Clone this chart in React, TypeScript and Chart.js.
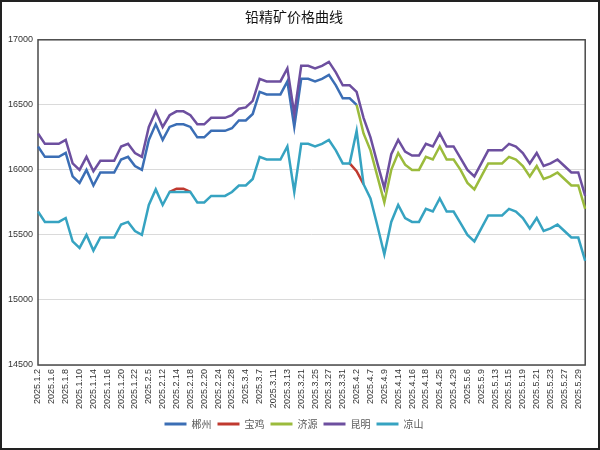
import { useEffect, useRef } from "react";
import { Chart, registerables } from "chart.js";

Chart.register(...registerables);

const TITLE = "铅精矿价格曲线";

const dates = [
  "2025.1.2", "2025.1.3", "2025.1.6", "2025.1.7", "2025.1.8", "2025.1.9", "2025.1.10", "2025.1.13",
  "2025.1.14", "2025.1.15", "2025.1.16", "2025.1.17", "2025.1.20", "2025.1.21", "2025.1.22", "2025.1.23",
  "2025.2.5", "2025.2.10", "2025.2.12", "2025.2.13", "2025.2.14", "2025.2.17", "2025.2.18", "2025.2.19",
  "2025.2.20", "2025.2.21", "2025.2.24", "2025.2.26", "2025.2.28", "2025.3.3", "2025.3.4", "2025.3.6",
  "2025.3.7", "2025.3.10", "2025.3.11", "2025.3.12", "2025.3.13", "2025.3.17", "2025.3.21", "2025.3.24",
  "2025.3.25", "2025.3.26", "2025.3.27", "2025.3.28", "2025.3.31", "2025.4.1", "2025.4.2", "2025.4.3",
  "2025.4.7", "2025.4.8", "2025.4.9", "2025.4.11", "2025.4.14", "2025.4.15", "2025.4.16", "2025.4.17",
  "2025.4.18", "2025.4.22", "2025.4.25", "2025.4.28", "2025.4.29", "2025.4.30", "2025.5.6", "2025.5.8",
  "2025.5.9", "2025.5.12", "2025.5.13", "2025.5.14", "2025.5.15", "2025.5.16", "2025.5.19", "2025.5.20",
  "2025.5.21", "2025.5.22", "2025.5.23", "2025.5.26", "2025.5.27", "2025.5.28", "2025.5.29", "2025.5.30",
];

const chenzhou: (number | null)[] = [
  16180, 16100, 16100, 16100, 16130, 15950, 15900, 16000,
  15880, 15980, 15980, 15980, 16080, 16100, 16030, 16000,
  16230, 16350, 16230, 16330, 16350, 16350, 16330, 16250,
  16250, 16300, 16300, 16300, 16320, 16380, 16380, 16430,
  16600, 16580, 16580, 16580, 16680, 16330, 16700, 16700,
  16680, 16700, 16730, 16650, 16550, 16550, 16500, null,
  null, null, null, null, null, null, null, null,
  null, null, null, null, null, null, null, null,
  null, null, null, null, null, null, null, null,
  null, null, null, null, null, null, null, null,
];

const baoji: (number | null)[] = [
  null, null, null, null, null, null, null, null,
  null, null, null, null, null, null, null, null,
  null, null, null, 15830, 15855, 15855, 15830, null,
  null, null, null, null, null, null, null, null,
  null, null, null, null, null, null, null, null,
  null, null, null, null, null, 16050, 15990, 15890,
  null, null, null, null, null, null, null, null,
  null, null, null, null, null, null, null, null,
  null, null, null, null, null, null, null, null,
  null, null, null, null, null, null, null, null,
];

const jiyuan: (number | null)[] = [
  null, null, null, null, null, null, null, null,
  null, null, null, null, null, null, null, null,
  null, null, null, null, null, null, null, null,
  null, null, null, null, null, null, null, null,
  null, null, null, null, null, null, null, null,
  null, null, null, null, null, null, 16500, 16280,
  16150, 15950, 15750, 16000, 16130, 16040, 16000, 16000,
  16100, 16080, 16180, 16080, 16080, 16000, 15900, 15850,
  15950, 16050, 16050, 16050, 16100, 16080, 16030, 15950,
  16030, 15930, 15950, 15980, 15930, 15880, 15880, 15700,
];

const kunming: number[] = [
  16280, 16200, 16200, 16200, 16230, 16050, 16000, 16100,
  15990, 16070, 16070, 16070, 16180, 16200, 16130, 16100,
  16330, 16450, 16330, 16420, 16450, 16450, 16420, 16350,
  16350, 16400, 16400, 16400, 16420, 16470, 16480, 16530,
  16700, 16680, 16680, 16680, 16780, 16430, 16800, 16800,
  16780, 16800, 16830, 16750, 16650, 16650, 16600, 16400,
  16250, 16050, 15860, 16120, 16230, 16140, 16110, 16110,
  16200, 16180, 16280, 16180, 16180, 16090, 16000, 15950,
  16050, 16150, 16150, 16150, 16200, 16180, 16130, 16050,
  16130, 16030, 16050, 16080, 16030, 15980, 15980, 15800,
];

const liangshan: number[] = [
  15680, 15600, 15600, 15600, 15630, 15450, 15400, 15500,
  15380, 15480, 15480, 15480, 15580, 15600, 15530, 15500,
  15730, 15850, 15730, 15830, 15830, 15830, 15830, 15750,
  15750, 15800, 15800, 15800, 15830, 15880, 15880, 15930,
  16100, 16080, 16080, 16080, 16180, 15830, 16200, 16200,
  16180, 16200, 16230, 16150, 16050, 16050, 16300, 15890,
  15780, 15570, 15350, 15600, 15730, 15630, 15600, 15600,
  15700, 15680, 15780, 15680, 15680, 15590, 15500, 15450,
  15550, 15650, 15650, 15650, 15700, 15680, 15630, 15550,
  15630, 15530, 15550, 15580, 15530, 15480, 15480, 15300,
];

const yTicks = { min: 14500, max: 17000, step: 500 };

const seriesNames = ["郴州", "宝鸡", "济源", "昆明", "凉山"];
const seriesColors = ["#3B6EB5", "#C0392F", "#9BBB3C", "#6D4F9F", "#36A3C1"];
const seriesData = [chenzhou, baoji, jiyuan, kunming, liangshan];
const drawOrder = [4, 3, 2, 1, 0];

export default function App() {
  const ref = useRef<HTMLCanvasElement | null>(null);

  useEffect(() => {
    if (!ref.current) return;
    const framePlugin = {
      id: "frames",
      beforeDatasetsDraw(chart: any) {
        const { ctx, chartArea: a } = chart;
        ctx.save();
        ctx.strokeStyle = "#4a4a4a";
        ctx.lineWidth = 1.5;
        ctx.strokeRect(a.left, a.top, a.right - a.left, a.bottom - a.top);
        ctx.restore();
      },
      afterDraw(chart: any) {
        const { ctx } = chart;
        ctx.save();
        ctx.strokeStyle = "#222";
        ctx.lineWidth = 2;
        ctx.strokeRect(1, 1, chart.width - 2, chart.height - 2);
        ctx.restore();
      },
    };

    const chart = new Chart(ref.current, {
      type: "line",
      data: {
        labels: dates,
        datasets: seriesNames.map((name, i) => ({
          label: name,
          data: seriesData[i],
          borderColor: seriesColors[i],
          backgroundColor: seriesColors[i],
          borderWidth: 2.5,
          pointRadius: 0,
          tension: 0,
          fill: false,
          spanGaps: false,
          order: drawOrder[i],
        })),
      },
      options: {
        animation: false,
        responsive: false,
        layout: { padding: { left: 0, right: 12, top: 0, bottom: 11 } },
        plugins: {
          title: {
            display: true,
            text: TITLE,
            color: "#111",
            font: { family: "'Noto Sans CJK SC'", size: 14, weight: "normal" },
            padding: { top: 8, bottom: 15 },
          },
          legend: {
            position: "bottom",
            labels: {
              boxWidth: 22,
              boxHeight: 3,
              padding: 6,
              color: "#595959",
              font: { family: "'Noto Sans CJK SC'", size: 10 },
              generateLabels: (c: any) =>
                c.data.datasets.map((ds: any, i: number) => ({
                  text: ds.label,
                  fillStyle: ds.borderColor,
                  strokeStyle: ds.borderColor,
                  lineWidth: 0,
                  hidden: false,
                  datasetIndex: i,
                  fontColor: "#595959",
                })),
            },
          },
          tooltip: { enabled: false },
        },
        scales: {
          x: {
            grid: { display: false, drawTicks: false },
            border: { display: false },
            ticks: {
              autoSkip: false,
              minRotation: 90,
              maxRotation: 90,
              padding: 4,
              color: "#333",
              font: { family: "'Liberation Sans'", size: 9 },
              callback: (_v: any, idx: number) => (idx % 2 === 0 ? dates[idx] : ""),
            },
            afterFit: (s: any) => {
              s.height = 48;
            },
          },
          y: {
            min: yTicks.min,
            max: yTicks.max,
            grid: { color: "#DADADA", lineWidth: 1, drawTicks: false },
            border: { display: false },
            ticks: {
              stepSize: yTicks.step,
              padding: 5,
              color: "#333",
              font: { family: "'Liberation Sans'", size: 9 },
              callback: (v: any) => String(v),
            },
            afterFit: (s: any) => {
              s.width = 38;
            },
          },
        },
      },
      plugins: [framePlugin],
    } as any);

    return () => chart.destroy();
  }, []);

  return (
    <div style={{ position: "fixed", left: 0, top: 0, width: 600, height: 450, background: "#fff" }}>
      <canvas ref={ref} width={600} height={450} style={{ display: "block" }} />
    </div>
  );
}
